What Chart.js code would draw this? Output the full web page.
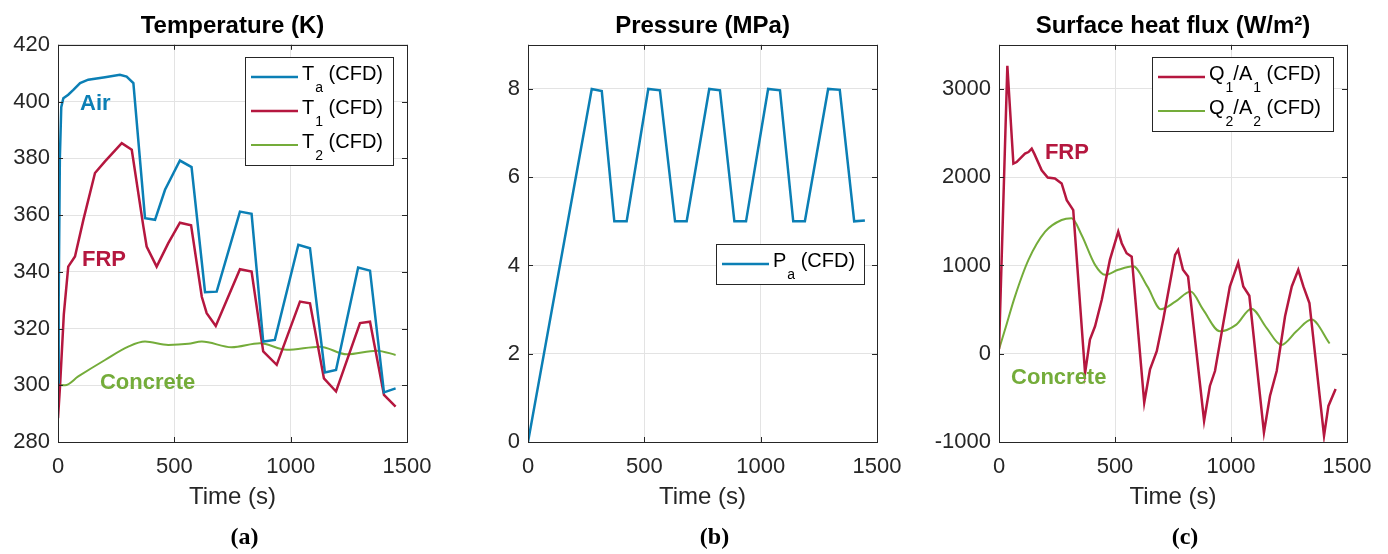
<!DOCTYPE html>
<html>
<head>
<meta charset="utf-8">
<script src="https://cdn.jsdelivr.net/npm/chart.js@4.4.1/dist/chart.umd.min.js"></script>
<style>
  html, body { margin: 0; padding: 0; background: #fff; }
  #wrap { position: relative; width: 1388px; height: 554px; }
  .panel { position: absolute; top: 0; height: 554px; }
</style>
</head>
<body>
<div id="wrap">
  <div class="panel" style="left:0"><canvas id="cA" width="462" height="554"></canvas></div>
  <div class="panel" style="left:462px"><canvas id="cB" width="462" height="554"></canvas></div>
  <div class="panel" style="left:924px"><canvas id="cC" width="464" height="554"></canvas></div>
</div>
<script>
// ---- data ----
var timeTicks = [0, 500, 1000, 1500];

// (a) temperature, K
var airTime = [0, 3, 8, 14, 23, 44, 66, 95, 130, 202, 266, 295, 324, 374, 417, 460, 524, 574, 632, 682, 782, 832, 882, 932, 1033, 1083, 1147, 1195, 1290, 1341, 1401, 1451];
var airTemp = [301, 330, 380, 398, 401.2, 402.4, 404.1, 406.5, 407.7, 408.6, 409.4, 408.8, 406.5, 358.9, 358.3, 368.9, 379.2, 376.9, 332.8, 333.0, 361.2, 360.4, 315.4, 316, 349.5, 348.3, 304.5, 305.4, 341.5, 340.4, 297.5, 298.9];
var frpTime = [0, 9, 25, 44, 73, 109, 159, 202, 274, 317, 367, 381, 424, 474, 524, 572, 618, 639, 678, 782, 832, 882, 940, 1040, 1083, 1143, 1195, 1298, 1341, 1401, 1451];
var frpTemp = [288.4, 300, 325, 341.8, 345.4, 358.3, 374.8, 378.9, 385.3, 383, 355.9, 348.9, 341.8, 350.1, 357.3, 356.4, 331.2, 325.4, 320.9, 340.9, 340.1, 311.9, 307.2, 329.5, 328.9, 302.4, 297.8, 321.9, 322.4, 296.6, 292.5];
var concTime = [0, 30, 87, 202, 302, 374, 474, 560, 618, 746, 868, 983, 1126, 1241, 1370, 1451];
var concTemp = [300.1, 300, 303.1, 308.9, 313.6, 315.4, 314.2, 314.6, 315.4, 313.4, 314.8, 312.5, 313.6, 310.9, 312.2, 310.7];
var tempTicks = [280, 300, 320, 340, 360, 380, 400, 420];

// (b) pressure, MPa
var presTime = [0, 274, 317, 371, 424, 517, 567, 632, 682, 779, 825, 887, 937, 1032, 1083, 1140, 1190, 1290, 1340, 1402, 1448];
var presVal = [0, 8, 7.95, 5, 5, 8, 7.97, 5, 5, 8, 7.97, 5, 5, 8, 7.97, 5, 5, 8, 7.98, 5, 5.02];
var presTicks = [0, 2, 4, 6, 8];

// (c) surface heat flux, W/m2
var q1Time = [0, 36, 62, 76, 112, 127, 141, 152, 184, 210, 241, 270, 292, 320, 371, 392, 414, 443, 478, 514, 529, 550, 572, 626, 651, 680, 708, 759, 772, 793, 815, 884, 909, 931, 967, 995, 1031, 1053, 1079, 1142, 1168, 1197, 1233, 1262, 1290, 1312, 1338, 1401, 1420, 1451];
var q1Flux = [50, 3263, 2154, 2172, 2267, 2285, 2323, 2267, 2078, 1996, 1985, 1929, 1740, 1627, -220, 161, 311, 612, 1063, 1383, 1252, 1139, 1100, -553, -177, 29, 387, 1120, 1176, 951, 875, -760, -365, -196, 350, 762, 1033, 762, 657, -891, -478, -196, 424, 762, 951, 762, 575, -929, -591, -400];
var q2Time = [0, 26, 69, 127, 199, 270, 313, 356, 414, 457, 514, 578, 640, 698, 760, 826, 880, 952, 1023, 1088, 1153, 1217, 1282, 1347, 1425];
var q2Flux = [50, 274, 650, 1063, 1383, 1515, 1534, 1345, 1007, 894, 951, 990, 760, 505, 590, 706, 500, 255, 330, 510, 293, 100, 255, 387, 116];
var fluxTicks = [-1000, 0, 1000, 2000, 3000];

var BLUE = '#0b7fb5', RED = '#b5173f', GREEN = '#74ac3a';
var INK = '#262626', GRID = '#e3e3e3';
var FONT = '"Liberation Sans", Arial, Helvetica, sans-serif';
var SERIF = '"Liberation Serif", "DejaVu Serif", serif';

function pts(ts, vs) { return ts.map(function (t, i) { return { x: t, y: vs[i] }; }); }
function fixTicks(list) { return function (s) { s.ticks = list.map(function (v) { return { value: v }; }); }; }
function plain(v) { return String(v); }

// label text with "_x" meaning a one-character subscript
function rich(c, str, x, y, size) {
  var i = 0;
  c.textAlign = 'left'; c.textBaseline = 'middle'; c.fillStyle = '#000';
  while (i < str.length) {
    if (str[i] === '_') {
      c.font = Math.round(size * 0.72) + 'px ' + FONT;
      c.fillText(str[i + 1], x + 1, y + 11);
      x += c.measureText(str[i + 1]).width + 1;
      i += 2;
    } else {
      var j = i; while (j < str.length && str[j] !== '_') j++;
      var part = str.slice(i, j);
      c.font = size + 'px ' + FONT;
      c.fillText(part, x, y - 3);
      x += c.measureText(part).width;
      i = j;
    }
  }
}

// MATLAB-like box with inward ticks on all four sides
var matBox = { id: 'matBox', afterDatasetsDraw: function (chart) {
  var a = chart.chartArea, c = chart.ctx, sx = chart.scales.x, sy = chart.scales.y;
  c.save(); c.strokeStyle = INK; c.lineWidth = 1; c.beginPath();
  sx.ticks.forEach(function (t) {
    var p = Math.round(sx.getPixelForValue(t.value)) + 0.5;
    c.moveTo(p, a.bottom); c.lineTo(p, a.bottom - 5); c.moveTo(p, a.top); c.lineTo(p, a.top + 5);
  });
  sy.ticks.forEach(function (t) {
    var p = Math.round(sy.getPixelForValue(t.value)) + 0.5;
    c.moveTo(a.left, p); c.lineTo(a.left + 5, p); c.moveTo(a.right, p); c.lineTo(a.right - 5, p);
  });
  c.stroke();
  c.strokeRect(Math.round(a.left) + 0.5, Math.round(a.top) + 0.5, Math.round(a.width), Math.round(a.height));
  c.restore();
} };

var boxLegend = { id: 'boxLegend', afterDraw: function (chart, args, o) {
  var a = chart.chartArea, c = chart.ctx, ds = chart.data.datasets;
  var x = Math.round(a.right - o.right - o.width), y = Math.round(a.top + o.top), h = 40 + (ds.length - 1) * 34;
  c.save();
  c.fillStyle = '#fff'; c.fillRect(x, y, o.width, h);
  c.strokeStyle = INK; c.lineWidth = 1; c.strokeRect(x + 0.5, y + 0.5, o.width, h);
  ds.forEach(function (d, i) {
    var cy = y + 20 + i * 34;
    c.strokeStyle = d.borderColor; c.lineWidth = d.borderWidth;
    c.beginPath(); c.moveTo(x + 6, cy); c.lineTo(x + 53, cy); c.stroke();
    rich(c, d.label, x + 57, cy, 20);
  });
  c.restore();
} };

var notes = { id: 'notes', afterDatasetsDraw: function (chart, args, o) {
  var c = chart.ctx, sx = chart.scales.x, sy = chart.scales.y;
  c.save(); c.textAlign = 'left'; c.textBaseline = 'middle';
  c.font = 'bold 22px ' + FONT;
  (o.items || []).forEach(function (n) {
    c.fillStyle = n.color;
    c.fillText(n.text, sx.getPixelForValue(n.x), sy.getPixelForValue(n.y));
  });
  c.restore();
} };

var caption = { id: 'caption', afterDraw: function (chart, args, o) {
  var a = chart.chartArea, c = chart.ctx;
  c.save(); c.textAlign = 'center'; c.textBaseline = 'middle'; c.fillStyle = '#000';
  c.font = 'bold 24px ' + SERIF;
  c.fillText(o.text, (a.left + a.right) / 2 + 12, 538);
  c.restore();
} };

function panel(id, o) {
  return new Chart(document.getElementById(id), {
    type: 'line',
    data: {
      datasets: o.series.map(function (s) {
        return {
          label: s.label, data: pts(s.t, s.v), borderColor: s.color, borderWidth: s.width || 2.5,
          pointRadius: 0, fill: false, tension: s.smooth ? 0.4 : 0,
          cubicInterpolationMode: s.smooth ? 'monotone' : 'default'
        };
      })
    },
    options: {
      responsive: false, animation: false, events: [],
      layout: { padding: { left: 0, right: o.padRight, top: 0, bottom: 0 } },
      plugins: {
        legend: { display: false }, tooltip: { enabled: false },
        title: { display: true, text: o.title, fullSize: false, color: '#000',
          font: { family: FONT, size: 24, weight: 'bold' }, padding: { top: 12, bottom: 4 } },
        boxLegend: o.legend, notes: { items: o.notes }, caption: { text: o.caption }
      },
      scales: {
        x: {
          type: 'linear', min: 0, max: 1500, afterBuildTicks: fixTicks(timeTicks),
          afterFit: function (s) { s.height = 112; },
          grid: { color: GRID, drawTicks: false }, border: { display: false },
          ticks: { padding: 12, color: INK, font: { family: FONT, size: 22 }, maxRotation: 0, autoSkip: false, callback: plain },
          title: { display: true, text: 'Time (s)', color: INK, font: { family: FONT, size: 24 }, padding: { top: 0, bottom: 42 } }
        },
        y: {
          type: 'linear', min: o.yMin, max: o.yMax, afterBuildTicks: fixTicks(o.yTicks),
          afterFit: function (s) { s.width = o.yWidth; },
          grid: { color: GRID, drawTicks: false }, border: { display: false },
          ticks: { padding: 8, color: INK, font: { family: FONT, size: 22 }, autoSkip: false, callback: plain }
        }
      }
    },
    plugins: [matBox, notes, boxLegend, caption]
  });
}

panel('cA', {
  title: 'Temperature (K)', caption: '(a)', yMin: 280, yMax: 420, yTicks: tempTicks, yWidth: 58, padRight: 55,
  series: [
    { label: 'T_a (CFD)', t: airTime, v: airTemp, color: BLUE },
    { label: 'T_1 (CFD)', t: frpTime, v: frpTemp, color: RED },
    { label: 'T_2 (CFD)', t: concTime, v: concTemp, color: GREEN, width: 2, smooth: true }
  ],
  legend: { right: 14, top: 12, width: 148 },
  notes: [
    { text: 'Air', x: 95, y: 399.2, color: BLUE },
    { text: 'FRP', x: 103, y: 344.2, color: RED },
    { text: 'Concrete', x: 180, y: 300.8, color: GREEN }
  ]
});

panel('cB', {
  title: 'Pressure (MPa)', caption: '(b)', yMin: 0, yMax: 9, yTicks: presTicks, yWidth: 66, padRight: 47,
  series: [{ label: 'P_a (CFD)', t: presTime, v: presVal, color: BLUE }],
  legend: { right: 13, top: 199, width: 148 },
  notes: []
});

panel('cC', {
  title: 'Surface heat flux (W/m\u00b2)', caption: '(c)', yMin: -1000, yMax: 3500, yTicks: fluxTicks, yWidth: 75, padRight: 41,
  series: [
    { label: 'Q_1/A_1 (CFD)', t: q1Time, v: q1Flux, color: RED },
    { label: 'Q_2/A_2 (CFD)', t: q2Time, v: q2Flux, color: GREEN, width: 2, smooth: true }
  ],
  legend: { right: 14, top: 12, width: 181 },
  notes: [
    { text: 'FRP', x: 198, y: 2270, color: RED },
    { text: 'Concrete', x: 52, y: -279, color: GREEN }
  ]
});
</script>
</body>
</html>
